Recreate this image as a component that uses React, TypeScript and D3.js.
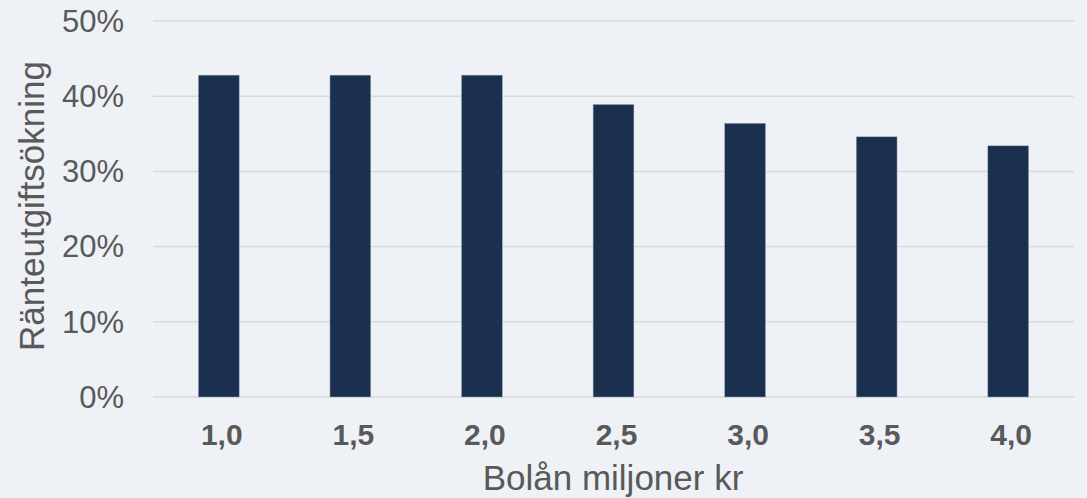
import React from 'react'
import * as d3 from 'd3'

// loan size (million SEK) and interest cost increase (%)
const loans = ['1,0', '1,5', '2,0', '2,5', '3,0', '3,5', '4,0']
const increase = [42.8, 42.8, 42.8, 38.9, 36.4, 34.6, 33.4]
const yTicks = [0, 10, 20, 30, 40, 50]

const width = 1087
const height = 498
const margin = { top: 21, right: 13, bottom: 101, left: 153 }

const App = () => {
    const x = d3.scaleBand()
        .domain(loans)
        .range([margin.left, width - margin.right])
        .paddingInner(0.69)
        .paddingOuter(0.345)

    const y = d3.scaleLinear()
        .domain([0, 50])
        .range([height - margin.bottom, margin.top])

    const font = 'Arial, "Liberation Sans", sans-serif'
    const textColor = '#595959'

    return (
        <div style={{ position: 'fixed', left: 0, top: 0 }}>
            <svg width={width} height={height} style={{ display: 'block' }}>
                <rect width={width} height={height} fill='#eef2f6' />

                {/* gridlines */}
                {yTicks.map(t => (
                    <line key={t} x1={margin.left} x2={width - margin.right}
                        y1={y(t)} y2={y(t)} stroke='#d9d9d9' strokeWidth={1.5} />
                ))}

                {/* y tick labels */}
                {yTicks.map(t => (
                    <text key={t} x={124} y={y(t)} dy='0.35em' textAnchor='end'
                        fontFamily={font} fontSize={31} fill={textColor}>
                        {t}%
                    </text>
                ))}

                {/* bars */}
                {loans.map((l, i) => (
                    <rect key={l} x={x(l)} y={y(increase[i])}
                        width={x.bandwidth()} height={y(0) - y(increase[i])}
                        fill='#1b2f4f' stroke='#9aa8bb' strokeWidth={0.5} />
                ))}

                {/* x tick labels */}
                {loans.map(l => (
                    <text key={l} x={x(l) + x.bandwidth() / 2 + 3} y={445} textAnchor='middle'
                        fontFamily={font} fontSize={30} fontWeight='bold' fill={textColor}>
                        {l}
                    </text>
                ))}

                {/* axis titles */}
                <text x={613} y={490} textAnchor='middle'
                    fontFamily={font} fontSize={35} fill={textColor}>
                    Bolån miljoner kr
                </text>
                <text transform='translate(44,206) rotate(-90)' textAnchor='middle'
                    fontFamily={font} fontSize={35} fill={textColor}>
                    Ränteutgiftsökning
                </text>
            </svg>
        </div>
    )
}

export default App
